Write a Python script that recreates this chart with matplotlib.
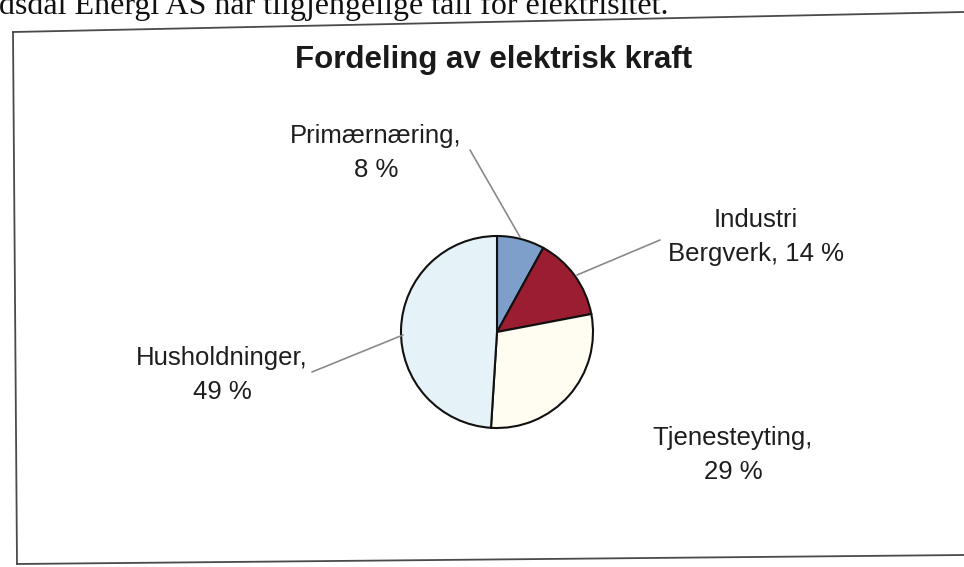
import matplotlib
matplotlib.use("Agg")
import matplotlib.pyplot as plt

# ---- data ----
title = "Fordeling av elektrisk kraft"
categories = ["Primærnæring", "Industri\nBergverk", "Tjenesteyting", "Husholdninger"]
shares = [8, 14, 29, 49]
colors = ["#7f9fcb", "#9b1d32", "#fffdf1", "#e5f3f9"]
page_text = "dsdal Energi AS har tilgjengelige tall for elektrisitet."

W, H = 964, 567
fig = plt.figure(figsize=(W / 100, H / 100), dpi=100)
fig.patch.set_facecolor("white")
ax = fig.add_axes([0, 0, 1, 1])


def Y(y):
    return H - y


# pie
cx, cy, r = 497, 332, 96
ax.pie(shares, colors=colors, startangle=90, counterclock=False,
       center=(cx, Y(cy)), radius=r, frame=True,
       wedgeprops=dict(edgecolor="#111111", linewidth=1.5))
ax.set_xlim(0, W)
ax.set_ylim(0, H)
ax.set_aspect("equal")
ax.axis("off")

# labels (built from data)
labels = []
for c, v in zip(categories, shares):
    if "\n" in c:
        labels.append(f"{c}, {v} %")
    else:
        labels.append(f"{c},\n{v} %")

label_pos = [(376, 143), (756, 227), (733, 445), (222, 365)]
line_gap = 34
tc = "#1e1e1e"
for lab, (lx, ly) in zip(labels, label_pos):
    for i, line in enumerate(lab.split("\n")):
        ax.text(lx, Y(ly + i * line_gap), line, ha="center", va="baseline",
                fontsize=18.5, family="Liberation Sans", color=tc)

# leader lines
leaders = [((470, 150), (520, 237)),
           ((660, 240), (577, 275)),
           ((312, 372), (403, 335))]
for (x0, y0), (x1, y1) in leaders:
    ax.plot([x0, x1], [Y(y0), Y(y1)], color="#8a8a8a", lw=1.2,
            solid_capstyle="round")

# title
ax.text(494, Y(68), title, ha="center", va="baseline", fontsize=22.5,
        fontweight="bold", family="Liberation Sans", color="#1a1a1a")

# scanned frame
frame_col = "#4a4a4a"
ax.plot([13, W], [Y(32), Y(12)], color=frame_col, lw=1.3, clip_on=False)
ax.plot([13, 17], [Y(32), Y(564)], color=frame_col, lw=1.3, clip_on=False)
ax.plot([17, W], [Y(564), Y(555)], color=frame_col, lw=1.3, clip_on=False)

# page text fragment above the chart (cut by the page edge, as in the scan)
ax.text(-1, Y(14), page_text, ha="left", va="baseline", fontsize=23,
        family="Liberation Serif", color="#111111", clip_on=False)

fig.savefig("out.png", dpi=100, facecolor="white")
